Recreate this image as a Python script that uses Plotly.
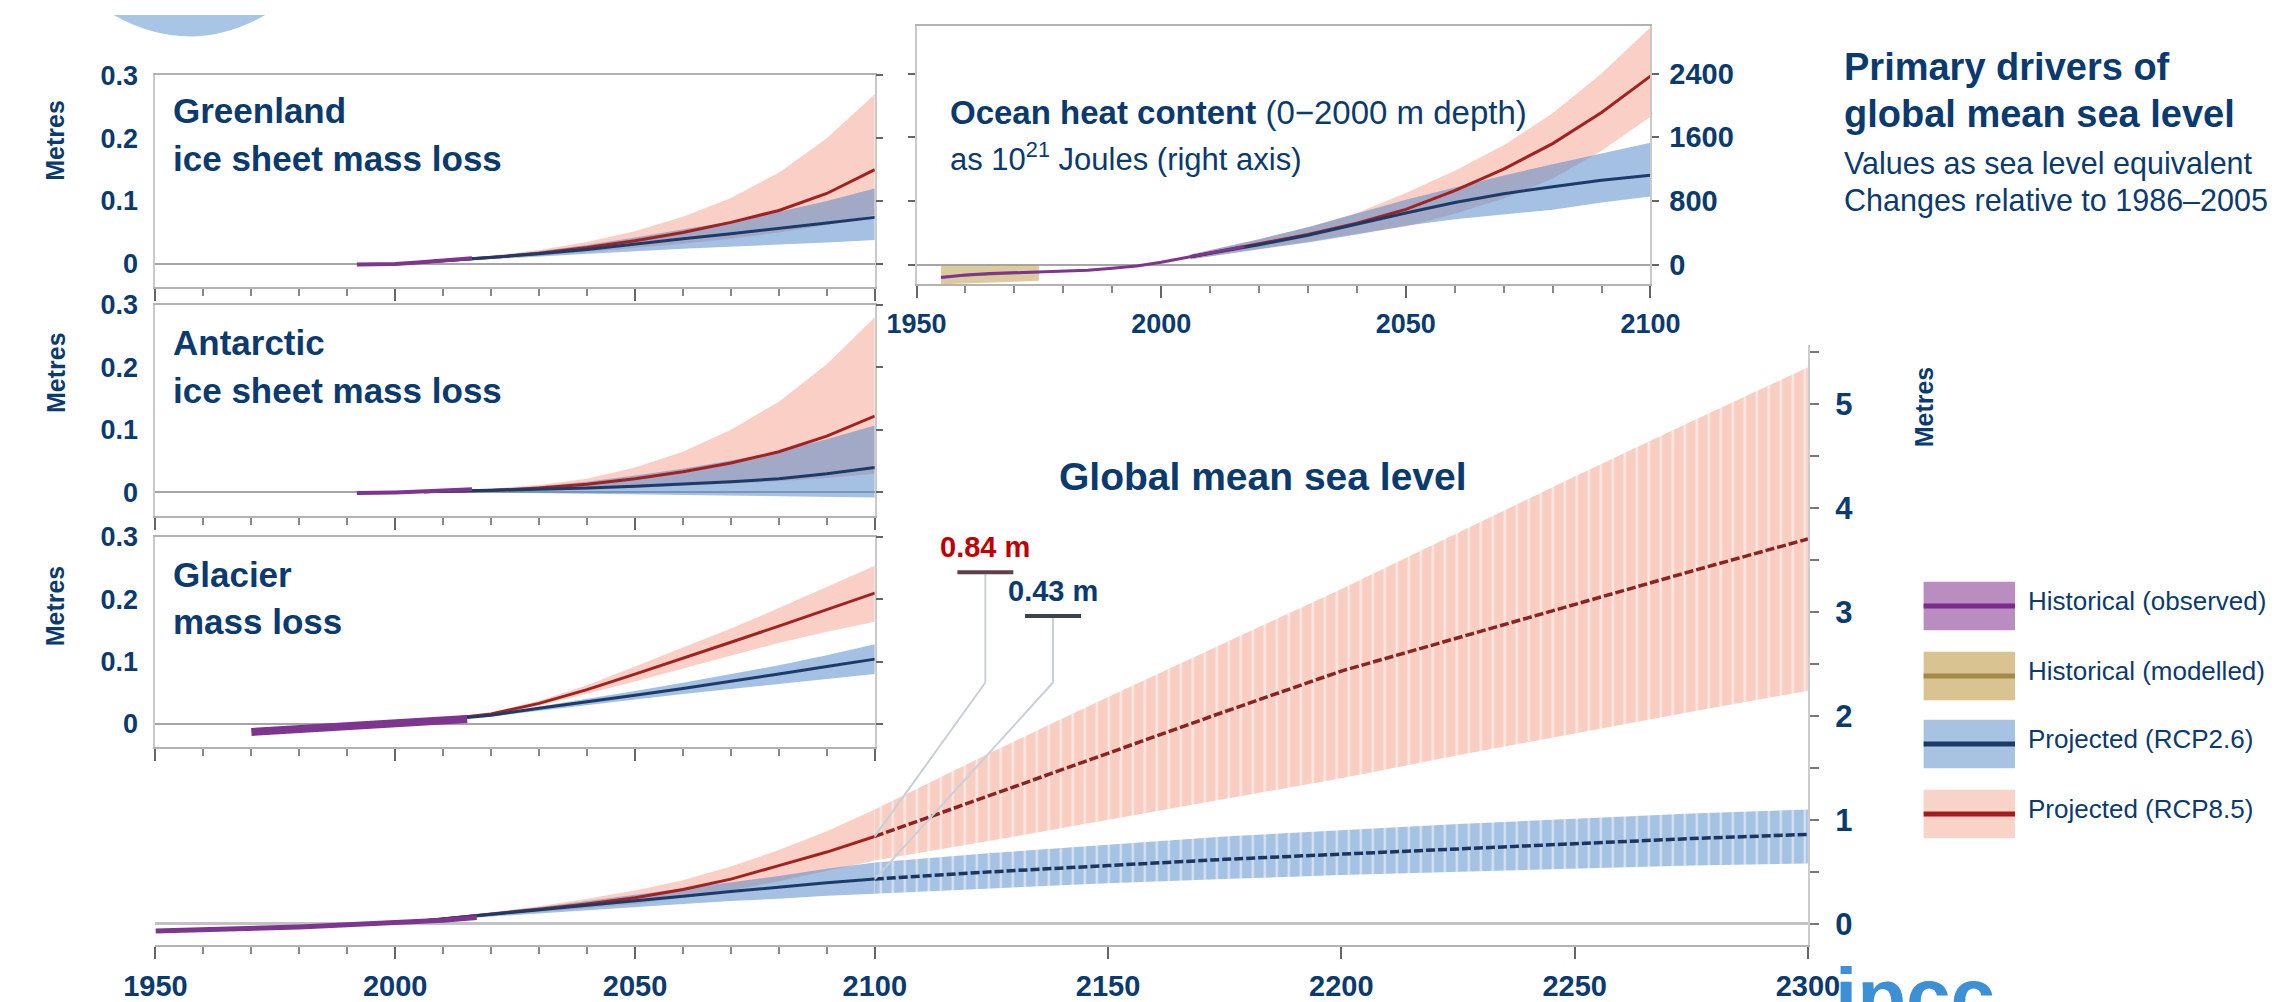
import plotly.graph_objects as go

# ================= DATA =================
proj_years = [2006, 2020, 2030, 2040, 2050, 2060, 2070, 2080, 2090, 2100]

# Greenland ice sheet (m)
grl_obs_years = [1992, 1996, 2000, 2004, 2008, 2012, 2016]
grl_obs = [-0.001, -0.001, 0.000, 0.002, 0.004, 0.007, 0.009]
grl_26_mid = [0.003, 0.010, 0.016, 0.023, 0.032, 0.040, 0.048, 0.056, 0.065, 0.074]
grl_26_lo = [0.002, 0.008, 0.012, 0.016, 0.020, 0.024, 0.028, 0.031, 0.034, 0.038]
grl_26_hi = [0.004, 0.012, 0.020, 0.030, 0.042, 0.055, 0.068, 0.083, 0.100, 0.120]
grl_85_mid = [0.003, 0.010, 0.017, 0.026, 0.037, 0.050, 0.066, 0.085, 0.112, 0.150]
grl_85_lo = [0.002, 0.008, 0.013, 0.019, 0.025, 0.032, 0.040, 0.050, 0.062, 0.078]
grl_85_hi = [0.004, 0.013, 0.022, 0.035, 0.052, 0.075, 0.105, 0.145, 0.200, 0.270]

# Antarctic ice sheet (m)
ant_obs_years = [1992, 1996, 2000, 2004, 2008, 2012, 2016]
ant_obs = [-0.001, -0.001, 0.000, 0.001, 0.002, 0.003, 0.005]
ant_26_mid = [0.001, 0.003, 0.005, 0.007, 0.010, 0.013, 0.017, 0.022, 0.030, 0.040]
ant_26_lo = [0.000, 0.000, -0.001, -0.002, -0.003, -0.004, -0.005, -0.006, -0.007, -0.008]
ant_26_hi = [0.002, 0.005, 0.010, 0.017, 0.027, 0.038, 0.051, 0.066, 0.085, 0.107]
ant_85_mid = [0.001, 0.003, 0.007, 0.013, 0.022, 0.033, 0.047, 0.065, 0.090, 0.122]
ant_85_lo = [0.000, 0.001, 0.002, 0.004, 0.007, 0.010, 0.014, 0.018, 0.023, 0.030]
ant_85_hi = [0.002, 0.006, 0.012, 0.022, 0.040, 0.065, 0.100, 0.145, 0.205, 0.280]

# Glaciers (m)
gla_obs_years = [1970, 1980, 1990, 2000, 2010, 2015]
gla_obs = [-0.013, -0.009, -0.005, 0.000, 0.005, 0.008]
gla_26_mid = [0.004, 0.014, 0.025, 0.035, 0.046, 0.057, 0.068, 0.080, 0.092, 0.104]
gla_26_lo = [0.003, 0.012, 0.022, 0.030, 0.039, 0.048, 0.057, 0.064, 0.072, 0.080]
gla_26_hi = [0.005, 0.016, 0.028, 0.040, 0.053, 0.066, 0.080, 0.094, 0.110, 0.128]
gla_85_mid = [0.004, 0.016, 0.033, 0.055, 0.080, 0.105, 0.131, 0.157, 0.184, 0.210]
gla_85_lo = [0.003, 0.014, 0.029, 0.048, 0.068, 0.089, 0.110, 0.130, 0.148, 0.164]
gla_85_hi = [0.005, 0.018, 0.037, 0.062, 0.092, 0.122, 0.153, 0.186, 0.220, 0.254]

# Ocean heat content (10^21 J)
ohc_obs_years = [1955, 1960, 1965, 1970, 1975, 1980, 1985, 1990, 1995, 2000, 2005, 2010, 2017]
ohc_obs = [-160, -130, -110, -100, -90, -80, -70, -45, -15, 30, 90, 150, 230]
ohc_mod_years = [1955, 1960, 1965, 1970, 1975]
ohc_mod_mid = [-150, -135, -120, -105, -95]
ohc_mod_lo = [-245, -235, -225, -215, -200]
ohc_mod_hi = [-15, -10, -5, -5, -10]
ohc_26_mid = [100, 250, 370, 510, 650, 780, 890, 980, 1060, 1122]
ohc_26_lo = [70, 190, 280, 380, 490, 570, 630, 690, 780, 857]
ohc_26_hi = [130, 320, 470, 640, 816, 970, 1120, 1260, 1400, 1531]
ohc_85_mid = [100, 260, 380, 520, 694, 930, 1200, 1520, 1910, 2367]
ohc_85_lo = [70, 200, 290, 390, 480, 640, 830, 1080, 1430, 1857]
ohc_85_hi = [130, 320, 470, 650, 900, 1180, 1500, 1900, 2400, 2980]

# Global mean sea level (m), 1950-2100
gmsl_obs_years = [1950, 1960, 1970, 1980, 1990, 2000, 2010, 2017]
gmsl_obs = [-0.07, -0.06, -0.045, -0.03, -0.01, 0.008, 0.035, 0.06]
gmsl_26_mid = [0.03, 0.09, 0.13, 0.175, 0.22, 0.265, 0.31, 0.355, 0.395, 0.43]
gmsl_26_lo = [0.02, 0.07, 0.10, 0.13, 0.16, 0.19, 0.22, 0.24, 0.27, 0.29]
gmsl_26_hi = [0.04, 0.11, 0.16, 0.22, 0.28, 0.34, 0.40, 0.46, 0.53, 0.59]
gmsl_85_mid = [0.03, 0.09, 0.14, 0.19, 0.25, 0.33, 0.43, 0.56, 0.69, 0.84]
gmsl_85_lo = [0.02, 0.07, 0.11, 0.15, 0.19, 0.25, 0.32, 0.41, 0.51, 0.61]
gmsl_85_hi = [0.04, 0.11, 0.17, 0.24, 0.32, 0.42, 0.55, 0.71, 0.89, 1.10]

# Global mean sea level (m), 2100-2300
ext_years = [2100, 2125, 2150, 2175, 2200, 2225, 2250, 2275, 2300]
ext_26_mid = [0.43, 0.50, 0.56, 0.62, 0.67, 0.72, 0.77, 0.82, 0.86]
ext_26_lo = [0.29, 0.34, 0.39, 0.43, 0.47, 0.50, 0.53, 0.56, 0.58]
ext_26_hi = [0.59, 0.68, 0.76, 0.84, 0.90, 0.96, 1.01, 1.06, 1.10]
ext_85_mid = [0.84, 1.24, 1.64, 2.04, 2.43, 2.75, 3.07, 3.39, 3.70]
ext_85_lo = [0.61, 0.80, 1.00, 1.20, 1.40, 1.62, 1.83, 2.04, 2.24]
ext_85_hi = [1.10, 1.65, 2.18, 2.70, 3.22, 3.76, 4.30, 4.83, 5.35]

# 2100 callouts
callout_values = [0.84, 0.43]
callout_labels = ["0.84 m", "0.43 m"]

legend_labels = ["Historical (observed)", "Historical (modelled)",
                 "Projected (RCP2.6)", "Projected (RCP8.5)"]

# ================= STYLE =================
W, H = 2290, 1002
NAVY = "#0b3a6e"
FONT = "Liberation Sans, Arial, sans-serif"
FRAME = "#c9c9c9"
AXIS = "#b3b3b3"
TICK = "#666666"

OBS_LINE = "#7d3590"
MOD_FILL = "rgba(190,160,80,0.55)"
MOD_LINE = "#a48a48"
B_FILL = "rgba(80,135,200,0.52)"
B_LINE = "#1d3b69"
R_FILL = "rgba(240,140,120,0.42)"
R_LINE = "#a3211f"


def px(p):
    return p / W


def py(p):
    return 1 - p / H


XL, XM, XR = px(127), px(867), px(1827)

fig = go.Figure()


def band(x, lo, hi, color, xa, ya, pattern=None):
    kw = dict(x=list(x) + list(x)[::-1], y=list(hi) + list(lo)[::-1],
              fill="toself", fillcolor=color, mode="lines", line=dict(width=0),
              hoverinfo="skip", showlegend=False, xaxis=xa, yaxis=ya)
    if pattern is not None:
        kw["fillpattern"] = pattern
    fig.add_trace(go.Scatter(**kw))


def line(x, y, color, xa, ya, width=3, dash=None):
    fig.add_trace(go.Scatter(x=x, y=y, mode="lines",
                             line=dict(color=color, width=width, dash=dash),
                             hoverinfo="skip", showlegend=False, xaxis=xa, yaxis=ya))


def panel(xa, ya, obs_x, obs_y, r_lo, r_mid, r_hi, b_lo, b_mid, b_hi, obs_w=4):
    band(proj_years, r_lo, r_hi, R_FILL, xa, ya)
    band(proj_years, b_lo, b_hi, B_FILL, xa, ya)
    line(proj_years, r_mid, R_LINE, xa, ya)
    line(proj_years, b_mid, B_LINE, xa, ya)
    line(obs_x, obs_y, OBS_LINE, xa, ya, width=obs_w)


panel("x", "y", grl_obs_years, grl_obs, grl_85_lo, grl_85_mid, grl_85_hi,
      grl_26_lo, grl_26_mid, grl_26_hi)
panel("x2", "y2", ant_obs_years, ant_obs, ant_85_lo, ant_85_mid, ant_85_hi,
      ant_26_lo, ant_26_mid, ant_26_hi)
panel("x3", "y3", gla_obs_years, gla_obs, gla_85_lo, gla_85_mid, gla_85_hi,
      gla_26_lo, gla_26_mid, gla_26_hi, obs_w=8)

# Ocean heat content
band(ohc_mod_years, ohc_mod_lo, ohc_mod_hi, MOD_FILL, "x4", "y4")
line(ohc_mod_years, ohc_mod_mid, MOD_LINE, "x4", "y4", width=2)
panel("x4", "y4", ohc_obs_years, ohc_obs, ohc_85_lo, ohc_85_mid, ohc_85_hi,
      ohc_26_lo, ohc_26_mid, ohc_26_hi, obs_w=3)

# GMSL 1950-2100
panel("x5", "y5", gmsl_obs_years, gmsl_obs, gmsl_85_lo, gmsl_85_mid, gmsl_85_hi,
      gmsl_26_lo, gmsl_26_mid, gmsl_26_hi, obs_w=5)

# GMSL 2100-2300, striped bars
band(ext_years, ext_85_lo, ext_85_hi, "#f8cec3", "x6", "y5",
     pattern=dict(shape="|", fgcolor="white", bgcolor="#f8cec3", size=12, solidity=0.2))
band(ext_years, ext_26_lo, ext_26_hi, "#a6c2e3", "x6", "y5",
     pattern=dict(shape="|", fgcolor="white", bgcolor="#a6c2e3", size=12, solidity=0.2))
line(ext_years, ext_85_mid, "#8c2323", "x6", "y5", width=3.5, dash="9px,3px")
line(ext_years, ext_26_mid, "#1b355e", "x6", "y5", width=3.5, dash="9px,3px")

# invisible anchors so the right-hand tick axes of the small panels render
for xa, ya in [("x", "y7"), ("x2", "y8"), ("x3", "y9")]:
    fig.add_trace(go.Scatter(x=[2000], y=[0], mode="markers", marker=dict(opacity=0),
                             hoverinfo="skip", showlegend=False, xaxis=xa, yaxis=ya))

# ================= AXES =================
def tfont(size):
    return dict(family=FONT, size=size, color=NAVY, weight="bold")


def small_x(anchor, labels=False, dom=(XL, XM)):
    return dict(domain=list(dom), range=[1950, 2100], anchor=anchor,
                showline=True, linecolor=AXIS, linewidth=2, mirror=True,
                ticks="outside", tick0=1950, dtick=50, ticklen=12, tickwidth=2,
                tickcolor=TICK, showticklabels=labels, tickfont=tfont(27),
                ticklabelstandoff=2,
                minor=dict(dtick=10, tick0=1950, ticks="outside", ticklen=7,
                           tickwidth=1.5, tickcolor="#888"),
                showgrid=False, zeroline=False)


small_tv = [0, 0.1, 0.2, 0.3]
small_tt = ["0", "0.1", "0.2", "0.3"]


def small_y(anchor, top, bottom):
    return dict(domain=[py(bottom), py(top)], range=[-0.037, 0.3], anchor=anchor,
                tickvals=small_tv, ticktext=small_tt, ticks="",
                tickfont=tfont(27), ticklabelstandoff=10,
                showline=True, linecolor=FRAME, linewidth=2, mirror=True,
                showgrid=False, zeroline=True, zerolinecolor="#a5a5a5", zerolinewidth=2)


def overlay_y(over, anchor):
    return dict(overlaying=over, anchor=anchor, side="right", range=[-0.037, 0.3],
                tickvals=small_tv, ticks="outside", ticklen=7, tickwidth=2,
                tickcolor=TICK, showticklabels=False, showline=False,
                showgrid=False, zeroline=False)


layout = dict(
    width=W, height=H, margin=dict(l=0, r=0, t=0, b=0),
    paper_bgcolor="white", plot_bgcolor="rgba(0,0,0,0)", showlegend=False,
    xaxis=small_x("y"), yaxis=small_y("x", 62, 280),
    xaxis2=small_x("y2"), yaxis2=small_y("x2", 298, 515),
    xaxis3=small_x("y3"), yaxis3=small_y("x3", 537, 753),
    yaxis7=overlay_y("y", "x"), yaxis8=overlay_y("y2", "x2"), yaxis9=overlay_y("y3", "x3"),
    xaxis4=small_x("y4", labels=True, dom=(px(910), px(1665))),
    yaxis4=dict(domain=[py(277), py(11)], range=[-245, 3000], anchor="x4", side="right",
                tickvals=[0, 800, 1600, 2400], ticks="outside", ticklen=7, tickwidth=2,
                tickcolor=TICK, tickfont=tfont(29), ticklabelstandoff=4,
                showline=True, linecolor=FRAME, linewidth=2, mirror="ticks",
                showgrid=False, zeroline=True, zerolinecolor="#a5a5a5", zerolinewidth=2),
    xaxis5=dict(domain=[XL, XM], range=[1950, 2100], anchor="y5", showline=True,
                linecolor=AXIS, linewidth=2, ticks="outside", tick0=1950, dtick=50,
                ticklen=12, tickwidth=2, tickcolor=TICK, tickfont=tfont(29),
                ticklabelstandoff=2,
                minor=dict(dtick=10, tick0=1950, ticks="outside", ticklen=7,
                           tickwidth=1.5, tickcolor="#888"),
                showgrid=False, zeroline=False),
    xaxis6=dict(domain=[XM, XR], range=[2100, 2300], anchor="y5", showline=True,
                linecolor=AXIS, linewidth=2, ticks="outside",
                tickvals=[2150, 2200, 2250, 2300], ticklen=12, tickwidth=2,
                tickcolor=TICK, tickfont=tfont(29), ticklabelstandoff=2,
                showgrid=False, zeroline=False),
    yaxis5=dict(domain=[py(957), py(340)], range=[-0.206, 5.56], anchor="x6", side="right",
                tickvals=[i * 0.5 for i in range(12)],
                ticktext=[str(i // 2) if i % 2 == 0 else " " for i in range(12)],
                ticks="outside", ticklen=9, tickwidth=2, tickcolor="#777",
                tickfont=tfont(31), ticklabelstandoff=10,
                showline=True, linecolor="#cccccc", linewidth=2,
                showgrid=False, zeroline=True, zerolinecolor="#c2c2c2", zerolinewidth=3),
)
fig.update_layout(**layout)

# ================= TEXT =================
ann = []


def text(x, y, t, size, color=NAVY, bold=True, xanchor="left",
         yanchor="middle", angle=0):
    ann.append(dict(x=px(x), y=py(y), xref="paper", yref="paper", text=t,
                    showarrow=False, xanchor=xanchor, yanchor=yanchor, textangle=angle,
                    font=dict(family=FONT, size=size, color=color,
                              weight="bold" if bold else "normal")))


text(143, 98, "Greenland", 35)
text(143, 148, "ice sheet mass loss", 35)
text(143, 337, "Antarctic", 35)
text(143, 386, "ice sheet mass loss", 35)
text(143, 576, "Glacier", 35)
text(143, 624, "mass loss", 35)
for yy in [129, 368, 608]:
    text(24, yy, "Metres", 25, xanchor="center", angle=-90)
text(1946, 403, "Metres", 25, xanchor="center", angle=-90)

text(942, 100, "<b>Ocean heat content</b> (0\u22122000 m depth)", 33, bold=False)
text(942, 146, "as 10<sup>21</sup> Joules (right axis)", 31, bold=False)

text(1266, 475, "Global mean sea level", 39, xanchor="center")

text(1862, 53, "Primary drivers of", 38)
text(1862, 102, "global mean sea level", 38)
text(1862, 153, "Values as sea level equivalent", 30.5, bold=False)
text(1862, 191, "Changes relative to 1986\u20132005", 30.5, bold=False)

# legend
leg_fill = ["#b98dbf", "#d8c391", "#a7c3e1", "#f9d2c8"]
leg_line = ["#7d2a8c", "#a48a48", "#1c3a68", "#a41b1b"]
leg_y = [608, 680, 750, 822]
shapes = []
for lbl, fc, lc, yy in zip(legend_labels, leg_fill, leg_line, leg_y):
    shapes.append(dict(type="rect", xref="paper", yref="paper", x0=px(1946), x1=px(2040),
                       y0=py(yy + 25), y1=py(yy - 25), fillcolor=fc, line=dict(width=0)))
    shapes.append(dict(type="line", xref="paper", yref="paper", x0=px(1946), x1=px(2040),
                       y0=py(yy), y1=py(yy), line=dict(color=lc, width=5)))
    text(2051, yy - 5, lbl, 26, bold=False)

# callouts at 2100
call_colors = ["#c00000", NAVY]
bar_colors = ["#5e3f4c", "#3b4150"]
call_x = [2123.7, 2138.2]
call_bar_y = [3.38, 2.96]
knee_y = 2.32
for v, lbl, cc, bc, cx, by in zip(callout_values, callout_labels, call_colors,
                                  bar_colors, call_x, call_bar_y):
    shapes.append(dict(type="line", xref="x6", yref="y5", x0=2100, y0=v, x1=cx, y1=knee_y,
                       line=dict(color="#c8cfd8", width=2)))
    shapes.append(dict(type="line", xref="x6", yref="y5", x0=cx, y0=knee_y, x1=cx, y1=by,
                       line=dict(color="#c8cfd8", width=2)))
    shapes.append(dict(type="line", xref="x6", yref="y5", x0=cx - 6, y0=by, x1=cx + 6, y1=by,
                       line=dict(color=bc, width=4)))
    ann.append(dict(x=cx, y=by + 0.07, xref="x6", yref="y5", text=lbl, showarrow=False,
                    xanchor="center", yanchor="bottom",
                    font=dict(family=FONT, size=29, color=cc, weight="bold")))

# logo decorations: bottom of a disc at top-left, "ipcc" wordmark at bottom-right
disc = "M {a},1 Q {b},{c} {d},1 Z".format(a=px(84), b=px(162), c=py(44), d=px(240))
shapes.append(dict(type="path", xref="paper", yref="paper", path=disc,
                   fillcolor="#a9c5e6", line=dict(width=0)))
ann.append(dict(x=px(1853), y=py(1010), xref="paper", yref="paper", text="ipcc",
                showarrow=False, xanchor="left", yanchor="middle",
                font=dict(family=FONT, size=80, color="#3d8fd6", weight="bold")))

fig.update_layout(annotations=ann, shapes=shapes)
fig.write_html("out.html")
